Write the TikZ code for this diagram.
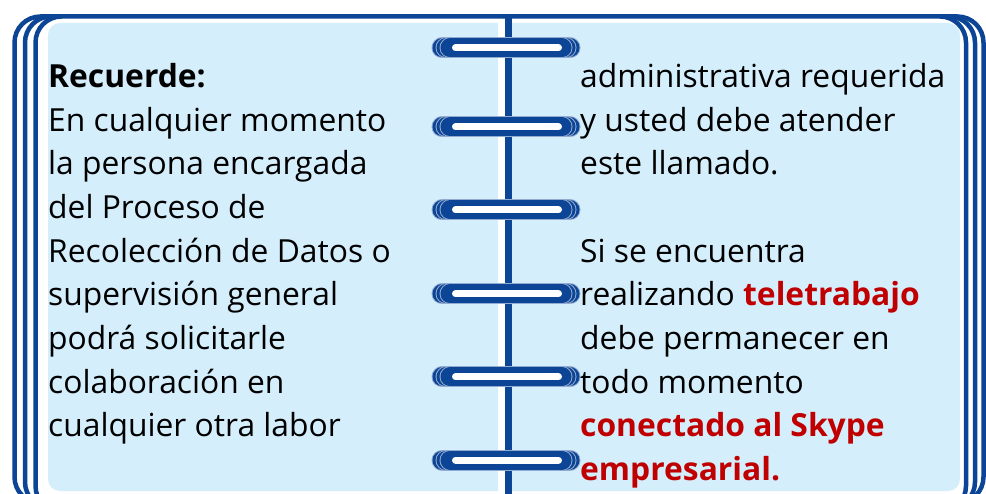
\documentclass[tikz,border=0pt]{standalone}
\usepackage{fontspec}
\setmainfont{Open Sans}
\usetikzlibrary{positioning}
\definecolor{colb}{RGB}{12,68,150}
\definecolor{colp}{RGB}{212,238,252}
\definecolor{colr}{RGB}{192,0,0}
\tikzset{
  cover/.style={draw=colb,line width=4.5pt,fill=white,rounded corners=26pt},
  ringout/.style={line width=21pt,line cap=round,draw=colb!45},
  ringin/.style={line width=19pt,line cap=round,draw=colb},
  hole/.style={line width=7pt,line cap=round,draw=white},
  txt/.style={anchor=north west,inner sep=0pt,align=left,font=\fontsize{31.8}{43.7}\selectfont}
}

\begin{document}
\begin{tikzpicture}[x=1pt,y=-1pt]
    \useasboundingbox (0,0) rectangle (986,494);
    \clip (0,0) rectangle (986,494);
    % covers
    \draw[cover] (14.5,16.5) rectangle (983.5,503);
    \draw[cover] (25,16.5) rectangle (975,508);
    \draw[cover] (35.5,16.5) rectangle (966,512);
    % page
    \fill[colp,rounded corners=12pt] (48,23) rectangle (960,491);
    \fill[white] (498,23) rectangle (505,494);
    \node[coordinate] (top) at (508.5,15) {};
    \node[coordinate] (bot) at (508.5,494) {};
    \draw[colb,line width=7pt] (top) -- (bot);
    % rings
    \foreach \y in {48,127,210,294,377,460} {
      \foreach \d in {0,4,8} {
        \draw[ringout] (442+\d,\y) -- (570-\d,\y);
        \draw[ringin] (442+\d,\y) -- (570-\d,\y);
      }
      \draw[hole] (455.5,\y) -- (558.5,\y);
    }
    % texts
    \node[txt] (left) at (48,63) {\textbf{Recuerde:}\\
      En cualquier momento\\
      la persona encargada\\
      del Proceso de\\
      Recolección de Datos o\\
      supervisión general\\
      podrá solicitarle\\
      colaboración en\\
      cualquier otra labor};
    \node[txt] (right) at (580,63) {administrativa requerida\\
      y usted debe atender\\
      este llamado.\\[43.7pt]
      Si se encuentra\\
      realizando \textcolor{colr}{\textbf{teletrabajo}}\\
      debe permanecer en\\
      todo momento\\
      \textcolor{colr}{\textbf{conectado al Skype}}\\
      \textcolor{colr}{\textbf{empresarial.}}};
  \end{tikzpicture}
\end{document}
